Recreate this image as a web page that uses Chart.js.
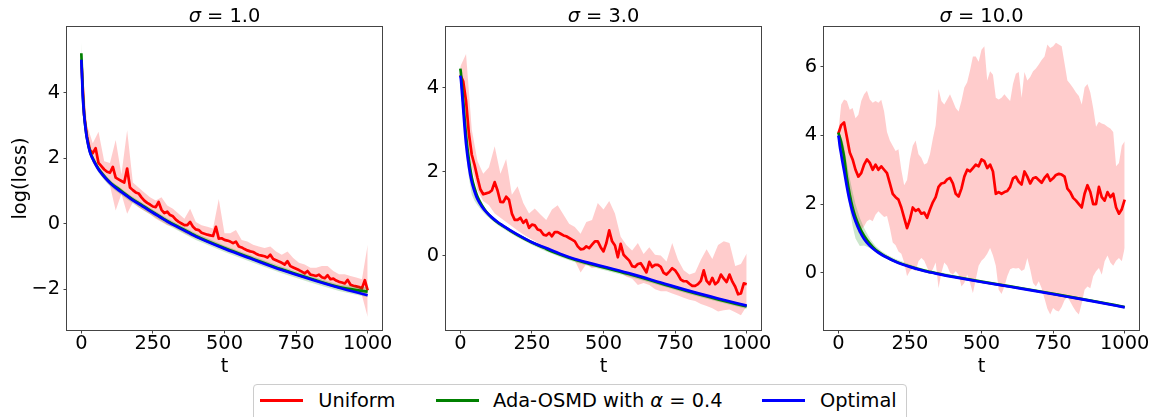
<!DOCTYPE html>
<html><head><meta charset="utf-8">
<script src="https://cdn.jsdelivr.net/npm/chart.js@4.4.1/dist/chart.umd.min.js"></script>
<style>
html,body{margin:0;padding:0;background:#fff;}
body{width:1156px;height:417px;position:relative;overflow:hidden;font-family:'DejaVu Sans',sans-serif;color:#000;}
canvas{position:absolute;top:0;}
.title{position:absolute;top:6.3px;width:200px;font-size:19.4px;line-height:19.4px;text-align:center;white-space:nowrap;}
.legend{position:absolute;left:253px;top:384px;width:654px;height:40px;border:1px solid #ccc;border-radius:4px;box-sizing:border-box;background:#fff;}
.lg-line{position:absolute;top:399.3px;height:2.8px;width:42.5px;}
.lg-text{position:absolute;top:390.9px;font-size:19.4px;line-height:19.4px;white-space:nowrap;}
</style></head>
<body>
<canvas id="c1" width="420" height="380" style="left:0px"></canvas>
<canvas id="c2" width="420" height="380" style="left:390px"></canvas>
<canvas id="c3" width="376" height="380" style="left:780px"></canvas>
<div class="title" style="left:124.5px"><i>σ</i> = 1.0</div>
<div class="title" style="left:503.5px"><i>σ</i> = 3.0</div>
<div class="title" style="left:881.5px"><i>σ</i> = 10.0</div>
<div class="legend"></div>
<div class="lg-line" style="left:260px;background:#ff0000"></div>
<div class="lg-text" style="left:318.3px">Uniform</div>
<div class="lg-line" style="left:436px;background:#008000"></div>
<div class="lg-text" style="left:493px">Ada-OSMD with <i>α</i> = 0.4</div>
<div class="lg-line" style="left:762.3px;background:#0000ff"></div>
<div class="lg-text" style="left:820px">Optimal</div>
<script>
// ---------- x grids ----------
const T10 = [0,10,20,30,40,50,60,70,80,90,100,110,120,130,140,150,160,170,180,190,200,210,220,230,240,250,260,270,280,290,300,310,320,330,340,350,360,370,380,390,400,410,420,430,440,450,460,470,480,490,500,510,520,530,540,550,560,570,580,590,600,610,620,630,640,650,660,670,680,690,700,710,720,730,740,750,760,770,780,790,800,810,820,830,840,850,860,870,880,890,900,910,920,930,940,950,960,970,980,990,1000];
const T20 = [0,20,40,60,80,100,120,140,160,180,200,220,240,260,280,300,320,340,360,380,400,420,440,460,480,500,520,540,560,580,600,620,640,660,680,700,720,740,760,780,800,820,840,860,880,900,920,940,960,980,1000];
const TS = [0,2,5,10,15,20,30,40,50,60,75,90,110,130,150,175,200,250,300,350,400,500,600,700,800,900,1000];
const X_TICKS = [0,250,500,750,1000];
const Y_TICKS_1 = [-2,0,2,4];
const Y_TICKS_2 = [0,2,4];
const Y_TICKS_3 = [0,2,4,6];
const SERIES = ['Uniform','Ada-OSMD with α = 0.4','Optimal'];

// ---------- sigma = 1.0 ----------
const P1_UNIFORM = [5.0,3.3,2.65,2.25,2.15,2.3,1.85,1.75,1.65,1.58,
 1.55,1.73,1.4,1.35,1.3,1.25,1.68,1.1,1.02,0.95,
 0.92,0.8,0.7,0.63,0.58,0.52,0.5,0.66,0.42,0.32,
 0.36,0.26,0.22,0.12,0.05,0.0,-0.05,-0.05,0.05,-0.1,
 -0.18,-0.2,-0.28,-0.31,-0.34,-0.36,-0.38,-0.1,-0.46,-0.45,
 -0.5,-0.52,-0.55,-0.6,-0.55,-0.7,-0.73,-0.78,-0.82,-0.85,
 -0.87,-0.92,-0.96,-0.98,-1.0,-1.04,-0.95,-1.08,-1.12,-1.16,
 -1.2,-1.25,-1.15,-1.3,-1.34,-1.38,-1.42,-1.47,-1.52,-1.45,
 -1.56,-1.58,-1.6,-1.56,-1.64,-1.67,-1.58,-1.7,-1.68,-1.74,
 -1.78,-1.8,-1.83,-1.72,-1.87,-1.9,-1.92,-1.94,-1.98,-1.73,
 -2.04];
const P1_UNIFORM_HI = [5.3,3.0,2.45,2.8,1.9,1.85,2.55,1.5,2.85,1.25,
 1.1,0.95,0.8,0.7,0.8,0.55,0.45,0.3,0.15,0.45,
 0.05,-0.05,-0.1,-0.15,0.75,-0.3,-0.3,-0.2,-0.5,-0.55,
 -0.65,-0.7,-0.75,-0.7,-0.85,-0.95,-0.85,-1.05,-1.2,-1.25,
 -1.35,-1.35,-1.3,-1.3,-1.45,-1.55,-1.55,-1.6,-1.65,-1.7,
 -0.65];
const P1_UNIFORM_LO = [4.8,2.4,1.85,1.6,1.35,1.15,0.4,0.9,0.3,0.65,
 0.5,0.38,0.28,0.15,0.05,-0.05,-0.1,-0.2,-0.3,-0.38,
 -0.45,-0.5,-0.58,-0.65,-0.7,-0.8,-0.85,-0.9,-0.95,-1.0,
 -1.05,-1.1,-1.18,-1.22,-1.28,-1.35,-1.4,-1.45,-1.5,-1.58,
 -1.6,-1.7,-1.75,-1.85,-1.9,-1.95,-2.0,-2.05,-2.1,-2.2,
 -2.85];
const P1_ADA = [5.2,4.75,4.0,3.32,2.9,2.6,2.2,1.99,1.82,1.67,1.5,1.35,1.18,1.06,0.92,0.76,0.62,0.35,0.08,-0.15,-0.38,-0.75,-1.08,-1.4,-1.68,-1.94,-2.08];
const P1_ADA_HI = [5.55,5.0,4.15,3.42,2.99,2.68,2.28,2.07,1.9,1.75,1.58,1.43,1.26,1.14,1.0,0.84,0.7,0.43,0.16,-0.07,-0.3,-0.67,-1.0,-1.32,-1.6,-1.86,-1.95];
const P1_ADA_LO = [4.9,4.5,3.8,3.2,2.78,2.48,2.08,1.87,1.7,1.55,1.38,1.23,1.06,0.93,0.8,0.64,0.5,0.23,-0.04,-0.27,-0.5,-0.87,-1.2,-1.52,-1.8,-2.06,-2.25];
const P1_OPT = [5.0,4.6,3.9,3.3,2.88,2.58,2.18,1.97,1.8,1.65,1.48,1.33,1.16,1.02,0.9,0.74,0.6,0.33,0.06,-0.17,-0.4,-0.77,-1.1,-1.42,-1.7,-1.96,-2.19];

// ---------- sigma = 3.0 ----------
const P2_UNIFORM = [4.3,4.15,3.68,2.9,2.4,2.15,1.85,1.58,1.46,1.48,
 1.5,1.55,1.75,1.55,1.28,1.27,1.4,1.33,1.0,0.85,
 0.85,0.9,0.78,0.85,0.66,0.74,0.72,0.62,0.6,0.5,
 0.48,0.54,0.46,0.56,0.56,0.52,0.48,0.46,0.42,0.38,
 0.34,0.22,0.15,0.16,0.22,0.18,0.26,0.34,0.34,0.2,
 0.1,0.3,0.6,0.34,0.24,-0.04,0.28,0.02,-0.05,-0.12,
 -0.25,-0.27,-0.2,-0.18,-0.29,-0.4,-0.15,-0.27,-0.22,-0.22,
 -0.27,-0.41,-0.45,-0.38,-0.3,-0.35,-0.45,-0.57,-0.61,-0.61,
 -0.67,-0.72,-0.72,-0.68,-0.6,-0.35,-0.6,-0.68,-0.53,-0.68,
 -0.62,-0.45,-0.55,-0.63,-0.45,-0.62,-0.74,-0.92,-0.9,-0.66,
 -0.68];
const P2_UNIFORM_HI = [4.5,4.8,3.0,2.25,1.95,2.1,2.6,1.95,2.3,1.45,
 1.65,1.25,1.0,1.12,0.98,0.85,1.1,1.2,0.98,0.76,
 0.68,0.52,0.8,0.85,1.25,1.1,1.3,1.0,0.45,0.25,
 0.12,0.3,0.04,0.2,0.02,0.0,-0.14,0.3,-0.1,-0.35,
 -0.45,-0.4,-0.1,0.15,-0.08,0.25,0.34,0.3,-0.25,-0.2,
 0.05];
const P2_UNIFORM_LO = [4.2,2.9,2.1,1.55,1.3,1.2,1.0,0.9,0.8,0.7,
 0.6,0.5,0.42,0.35,0.25,0.2,0.12,0.05,0.0,-0.05,
 -0.12,-0.4,-0.2,-0.3,-0.25,-0.3,-0.3,-0.35,-0.4,-0.5,
 -0.55,-0.7,-0.65,-0.7,-0.8,-0.85,-0.85,-0.9,-0.95,-1.0,
 -1.05,-1.08,-1.15,-1.2,-1.25,-1.33,-1.3,-1.28,-1.35,-1.42,
 -1.2];
const P2_ADA = [4.45,4.35,4.1,3.7,3.25,2.85,2.28,1.86,1.6,1.4,1.2,1.05,0.9,0.79,0.7,0.59,0.49,0.31,0.16,0.02,-0.1,-0.28,-0.46,-0.66,-0.86,-1.04,-1.21];
const P2_ADA_HI = [4.5,4.45,4.2,3.8,3.35,2.95,2.36,1.93,1.66,1.45,1.25,1.1,0.95,0.84,0.74,0.63,0.53,0.35,0.2,0.06,-0.06,-0.24,-0.42,-0.62,-0.82,-1.0,-1.17];
const P2_ADA_LO = [4.35,4.2,3.85,3.35,2.85,2.4,1.85,1.45,1.3,1.2,1.07,0.96,0.84,0.73,0.64,0.53,0.43,0.25,0.1,-0.04,-0.16,-0.34,-0.52,-0.72,-0.92,-1.1,-1.27];
const P2_OPT = [4.28,4.2,3.95,3.5,3.05,2.66,2.12,1.75,1.52,1.34,1.17,1.04,0.91,0.8,0.71,0.6,0.5,0.32,0.18,0.04,-0.08,-0.26,-0.44,-0.64,-0.84,-1.02,-1.19];

// ---------- sigma = 10.0 ----------
const P3_UNIFORM = [4.05,4.3,4.38,3.95,3.5,3.3,3.0,2.8,2.9,3.15,
 3.3,3.2,3.0,3.15,3.0,3.1,3.0,2.9,2.6,2.3,
 2.2,2.13,1.9,1.6,1.3,1.55,1.9,1.8,1.85,1.72,
 1.75,1.6,1.84,2.05,2.2,2.5,2.6,2.62,2.72,2.76,
 2.6,2.3,2.22,2.45,2.8,3.0,2.95,3.05,3.15,3.1,
 3.3,3.25,3.05,3.15,2.95,2.3,2.35,2.3,2.35,2.38,
 2.5,2.75,2.8,2.65,2.57,2.95,2.8,2.6,2.75,2.78,
 2.7,2.62,2.76,2.86,2.68,2.75,2.85,2.88,2.86,2.8,
 2.45,2.35,2.18,2.1,2.0,1.9,2.3,2.55,2.35,2.0,
 2.0,2.5,2.2,2.1,2.35,2.2,2.3,1.9,1.72,1.85,
 2.13];
const P3_UNIFORM_HI = [4.1,4.9,5.05,5.0,4.75,4.8,4.5,4.6,5.0,5.2,
 5.3,5.05,4.95,5.0,4.95,5.04,4.7,4.1,3.85,3.7,
 3.55,3.6,3.0,2.55,2.7,3.3,3.7,3.85,3.45,3.35,
 3.15,3.2,3.45,3.9,4.3,5.35,5.0,4.9,5.05,5.2,
 5.0,4.8,4.7,5.0,5.4,5.55,5.9,6.3,6.3,6.15,
 6.5,6.6,5.6,5.87,5.77,5.1,5.05,5.1,5.2,5.1,
 5.0,5.5,5.8,5.85,5.1,5.85,5.6,5.7,5.87,5.95,
 6.07,6.2,6.3,6.65,6.55,6.6,6.7,6.65,6.6,6.1,
 5.6,5.5,5.38,5.25,5.15,4.9,5.4,5.5,5.25,4.8,
 4.25,4.4,4.35,4.32,4.25,4.2,4.1,3.1,3.2,3.7,
 3.83];
const P3_UNIFORM_LO = [4.0,3.55,3.05,2.5,2.2,2.1,1.65,1.15,1.25,1.35,
 1.5,1.55,1.5,1.69,1.79,1.7,1.62,1.65,1.3,0.88,
 0.8,0.62,0.55,0.3,-0.1,0.05,0.12,0.04,0.33,0.43,
 0.35,0.15,-0.02,0.1,0.3,-0.45,0.0,0.3,0.2,0.0,
 -0.05,0.04,-0.06,-0.4,-0.3,-0.05,-0.3,-0.6,-0.2,0.2,
 0.35,0.43,0.55,0.72,0.5,0.2,-0.5,-0.62,-0.4,-0.1,
 0.1,0.14,0.12,0.14,0.05,0.1,0.43,0.1,-0.3,-0.4,
 -0.25,-0.45,-0.75,-1.05,-1.22,-1.03,-1.1,-1.13,-1.0,-0.8,
 -0.7,-0.85,-1.0,-1.13,-1.22,-0.9,-0.5,-0.4,-0.45,-0.1,
 0.04,0.14,-0.06,0.33,0.5,0.3,0.2,0.35,0.43,0.33,
 0.72];
const P3_ADA = [4.08,4.03,3.95,3.8,3.6,3.38,2.76,2.27,1.9,1.62,1.31,1.08,0.85,0.67,0.55,0.43,0.33,0.18,0.06,-0.03,-0.11,-0.26,-0.4,-0.54,-0.69,-0.84,-1.0];
const P3_ADA_HI = [4.1,4.08,4.05,3.95,3.85,3.7,3.2,2.75,2.35,2.0,1.6,1.3,1.0,0.78,0.63,0.5,0.4,0.24,0.11,0.02,-0.06,-0.22,-0.36,-0.5,-0.65,-0.8,-0.97];
const P3_ADA_LO = [4.0,3.95,3.8,3.55,3.3,3.05,2.4,1.85,1.35,1.0,0.78,0.79,0.72,0.6,0.48,0.38,0.28,0.13,0.01,-0.07,-0.15,-0.3,-0.44,-0.58,-0.73,-0.88,-1.04];
const P3_OPT = [4.0,3.9,3.7,3.45,3.2,2.98,2.5,2.08,1.75,1.5,1.2,0.98,0.78,0.64,0.53,0.42,0.32,0.17,0.05,-0.04,-0.12,-0.27,-0.41,-0.55,-0.7,-0.85,-1.01];

// ---------- helpers ----------
const FONT = {family: "'DejaVu Sans'", size: 19.4};
const pts = (T, V) => V.map((y, i) => ({x: T[i], y: y}));
const fmt = v => (v < 0 ? '\u2212' + Math.abs(v) : String(v));

const framePlugin = {
  id: 'frame',
  afterDatasetsDraw(chart) {
    const a = chart.chartArea, ctx = chart.ctx;
    ctx.save();
    ctx.strokeStyle = '#444';
    ctx.lineWidth = 1;
    ctx.strokeRect(Math.round(a.left) - 0.5, Math.round(a.top) - 0.5,
      Math.round(a.right) - Math.round(a.left) + 1, Math.round(a.bottom) - Math.round(a.top) + 1);
    ctx.restore();
  }
};

function band(T, V, fill, color, order) {
  return {data: pts(T, V), borderWidth: 0, borderColor: 'rgba(0,0,0,0)', pointRadius: 0,
    fill: fill, backgroundColor: color, order: order};
}
function line(label, T, V, color, order, smooth) {
  const d = {label: label, data: pts(T, V), borderColor: color, borderWidth: 2.7, pointRadius: 0,
    fill: false, order: order, borderJoinStyle: 'round', tension: 0};
  if (smooth) d.cubicInterpolationMode = 'monotone';
  return d;
}

function build(id, p) {
  const datasets = [
    band(p.tb, p.uHi, '+1', 'rgba(255,0,0,0.2)', 6),
    band(p.tb, p.uLo, false, 'rgba(0,0,0,0)', 6),
    line(SERIES[0], T10, p.u, '#ff0000', 5, false),
    band(TS, p.aHi, '+1', 'rgba(0,128,0,0.2)', 4),
    band(TS, p.aLo, false, 'rgba(0,0,0,0)', 4),
    line(SERIES[1], TS, p.a, '#008000', 3, true),
    line(SERIES[2], TS, p.o, '#0000ff', 0, true)
  ];
  return new Chart(document.getElementById(id), {
    type: 'line',
    data: {datasets: datasets},
    plugins: [framePlugin],
    options: {
      responsive: false, animation: false, devicePixelRatio: 1, events: [],
      layout: {padding: {top: 27, right: p.padR, bottom: 0, left: 0}},
      plugins: {legend: {display: false}, tooltip: {enabled: false}, title: {display: false}},
      scales: {
        x: {
          type: 'linear', min: -50, max: 1050,
          afterBuildTicks: s => { s.ticks = X_TICKS.map(v => ({value: v})); },
          afterFit: s => { s.height = 50; },
          ticks: {font: Object.assign({}, FONT, {lineHeight: 1}), color: '#000', padding: 1,
                  maxRotation: 0, autoSkip: false, callback: fmt},
          grid: {display: true, drawOnChartArea: false, drawTicks: true, tickLength: 3.5,
                 color: '#444', tickColor: '#444'},
          border: {display: false},
          title: {display: true, text: 't', font: FONT, color: '#000', padding: {top: 0, bottom: 1.4}}
        },
        y: {
          type: 'linear', min: p.yMin, max: p.yMax,
          afterBuildTicks: s => { s.ticks = p.yTicks.map(v => ({value: v})); },
          afterFit: s => { s.width = p.yW; },
          ticks: {font: FONT, color: '#000', padding: 3.5, autoSkip: false, callback: fmt},
          grid: {display: true, drawOnChartArea: false, drawTicks: true, tickLength: 3.5,
                 color: '#444', tickColor: '#444'},
          border: {display: false},
          title: {display: !!p.yTitle, text: p.yTitle || '', font: FONT, color: '#000',
                  padding: {top: 9, bottom: 0}}
        }
      }
    }
  });
}

build('c1', {tb: T20, u: P1_UNIFORM, uHi: P1_UNIFORM_HI, uLo: P1_UNIFORM_LO,
  a: P1_ADA, aHi: P1_ADA_HI, aLo: P1_ADA_LO, o: P1_OPT,
  yMin: -3.25, yMax: 6.0, yTicks: Y_TICKS_1, yW: 67, padR: 38, yTitle: 'log(loss)'});
build('c2', {tb: T20, u: P2_UNIFORM, uHi: P2_UNIFORM_HI, uLo: P2_UNIFORM_LO,
  a: P2_ADA, aHi: P2_ADA_HI, aLo: P2_ADA_LO, o: P2_OPT,
  yMin: -1.77, yMax: 5.44, yTicks: Y_TICKS_2, yW: 56, padR: 49});
build('c3', {tb: T10, u: P3_UNIFORM, uHi: P3_UNIFORM_HI, uLo: P3_UNIFORM_LO,
  a: P3_ADA, aHi: P3_ADA_HI, aLo: P3_ADA_LO, o: P3_OPT,
  yMin: -1.67, yMax: 7.16, yTicks: Y_TICKS_3, yW: 44, padR: 17});
</script>
</body></html>
